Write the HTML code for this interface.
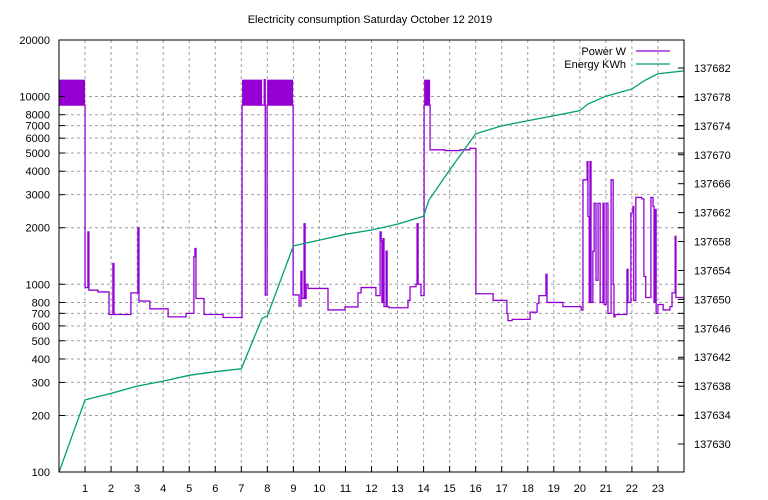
<!DOCTYPE html>
<html><head><meta charset="utf-8"><style>
body{margin:0;background:#fff}
svg{display:block;font-family:"Liberation Sans",sans-serif;font-size:11px}
</style></head><body>
<svg id="c" width="768" height="500" viewBox="0 0 768 500">
<text x="370" y="23" text-anchor="middle" font-size="11">Electricity consumption Saturday October 12 2019</text>
<g id="grid"></g><g id="marks"></g><g id="axes"></g>
</svg>
<script>
const hourTicks=[1,2,3,4,5,6,7,8,9,10,11,12,13,14,15,16,17,18,19,20,21,22,23];
const powerTicks=[100,200,300,400,500,600,700,800,1000,2000,3000,4000,5000,6000,7000,8000,10000,20000];
const energyTicks=[137630,137634,137638,137642,137646,137650,137654,137658,137662,137666,137670,137674,137678,137682];
const energyT=[0,1,2,3,4,5,6,7,7.8,8,9,10,11,12,13,14,14.2,15,16,17,18,19,20,20.3,21,22,22.5,23,24];
const energyK=[137626.1,137636.1,137637.0,137638.0,137638.7,137639.5,137640.0,137640.4,137647.4,137647.7,137657.4,137658.2,137659.0,137659.6,137660.4,137661.5,137663.7,137667.9,137672.9,137674.0,137674.7,137675.4,137676.1,137677.0,137678.1,137679.1,137680.3,137681.2,137681.6];
const cycleStart=[0,7.03,7.99,14.02];
const cycleEnd=[1.0,7.8,8.99,14.25];
const cycleLow=[9000,9000,9000,9000];
const cycleHigh=[12300,12300,12300,12300];
const powerT=[0,1.0,1.11,1.15,1.5,1.92,2.07,2.11,2.76,3.03,3.07,3.49,4.19,4.88,5.18,5.22,5.26,5.57,6.3,7.03,7.88,7.92,7.99,8.99,9.22,9.29,9.33,9.41,9.45,9.49,9.56,10.33,10.98,11.48,11.6,12.17,12.33,12.37,12.4,12.44,12.48,12.56,12.6,12.67,13.4,13.48,13.71,13.75,13.79,13.9,14.02,14.25,14.82,15.4,15.78,16.01,16.67,17.2,17.24,17.4,18.09,18.36,18.43,18.7,18.74,19.35,20.05,20.12,20.28,20.31,20.36,20.39,20.43,20.5,20.55,20.62,20.7,20.78,20.89,20.93,21.01,21.08,21.2,21.28,21.31,21.35,21.77,21.81,21.85,21.96,22.04,22.07,22.15,22.38,22.46,22.53,22.73,22.81,22.85,22.88,22.93,23.0,23.2,23.46,23.54,23.66,23.69,24];
const powerW=[9000,960,1900,930,910,690,1290,690,900,2000,814,740,670,700,1400,1550,840,690,665,9000,12300,875,9000,877,765,1170,840,2100,840,1000,950,730,757,900,960,870,1900,1700,800,1750,760,1500,760,750,820,970,1000,2100,1000,870,9000,5200,5150,5200,5300,890,820,700,640,650,710,790,870,1130,800,760,730,3600,4500,2300,800,4500,800,1500,2700,1050,2700,800,2700,780,2700,700,3600,1000,670,690,690,1200,800,2400,2600,820,2900,2850,1100,850,2900,2600,800,2500,700,780,730,760,900,1800,850,850];
const L=59,R=684,T=40,B=472;
const X=t=>L+t*(R-L)/24;
const Y=w=>B-(Math.log10(w)-2)/Math.log10(200)*(B-T);
const E0=137626.13,E1=137685.87;
const Y2=e=>B-(e-E0)/(E1-E0)*(B-T);
const NS='http://www.w3.org/2000/svg';
function mk(tag,parent,attrs){const el=document.createElementNS(NS,tag);for(const k in attrs)el.setAttribute(k,attrs[k]);document.getElementById(parent).appendChild(el);return el;}
hourTicks.forEach(h=>{
 const g=mk('line','grid',{x1:X(h),x2:X(h),y1:T,y2:B,stroke:'#a0a0a0','stroke-dasharray':'3,3','stroke-width':1});
 
 
 const tk=mk('line','axes',{x1:X(h),x2:X(h),y1:B,y2:B-6,stroke:'#000'});
 
 
 const tx=mk('text','axes',{x:X(h),y:B+20,'text-anchor':'middle'});tx.textContent=h;
 
 
});
powerTicks.forEach(w=>{
 if(w>100&&w<20000){const g=mk('line','grid',{x1:L,x2:R,y1:Y(w),y2:Y(w),stroke:'#a0a0a0','stroke-dasharray':'3,3'});
 
 }
 const tk=mk('line','axes',{x1:L,x2:L+6,y1:Y(w),y2:Y(w),stroke:'#000'});
 
 
 const tm=mk('line','axes',{x1:R,x2:R-6,y1:Y(w),y2:Y(w),stroke:'#000'});
 
 
 const tx=mk('text','axes',{x:L-9,y:Y(w)+4,'text-anchor':'end'});tx.textContent=w;
 
 
});
energyTicks.forEach(e=>{
 const tk=mk('line','axes',{x1:R,x2:R-6,y1:Y2(e),y2:Y2(e),stroke:'#000'});
 
 
 const tx=mk('text','axes',{x:R+10,y:Y2(e)+4,'text-anchor':'start'});tx.textContent=e;
 
 
});
const bd=mk('rect','axes',{x:L,y:T,width:R-L,height:B-T,fill:'none',stroke:'#000'});


cycleStart.forEach((s,i)=>{
 const r=mk('rect','marks',{x:X(s),y:Y(cycleHigh[i]),width:X(cycleEnd[i])-X(s),height:Y(cycleLow[i])-Y(cycleHigh[i]),fill:'#9400d3'});
 
 
});
let d='';
powerT.forEach((t,i)=>{
 if(i===0)d+='M'+X(t)+','+Y(powerW[i]);
 else d+='H'+X(t)+'V'+Y(powerW[i]);
});
d+='H'+X(24);
const pl=mk('path','marks',{d:d,fill:'none',stroke:'#9400d3','stroke-width':1.3});


const ep=energyT.map((t,i)=>X(t)+','+Y2(energyK[i])).join(' ');
const el=mk('polyline','marks',{points:ep,fill:'none',stroke:'#009e73','stroke-width':1.3});


const l1=mk('text','axes',{x:626,y:55,'text-anchor':'end'});l1.textContent='Power W';


const l2=mk('line','axes',{x1:636,x2:670,y1:51,y2:51,stroke:'#9400d3','stroke-width':1.3});


const l3=mk('text','axes',{x:626,y:68,'text-anchor':'end'});l3.textContent='Energy KWh';


const l4=mk('line','axes',{x1:636,x2:670,y1:64,y2:64,stroke:'#009e73','stroke-width':1.3});


</script>
</body></html>
